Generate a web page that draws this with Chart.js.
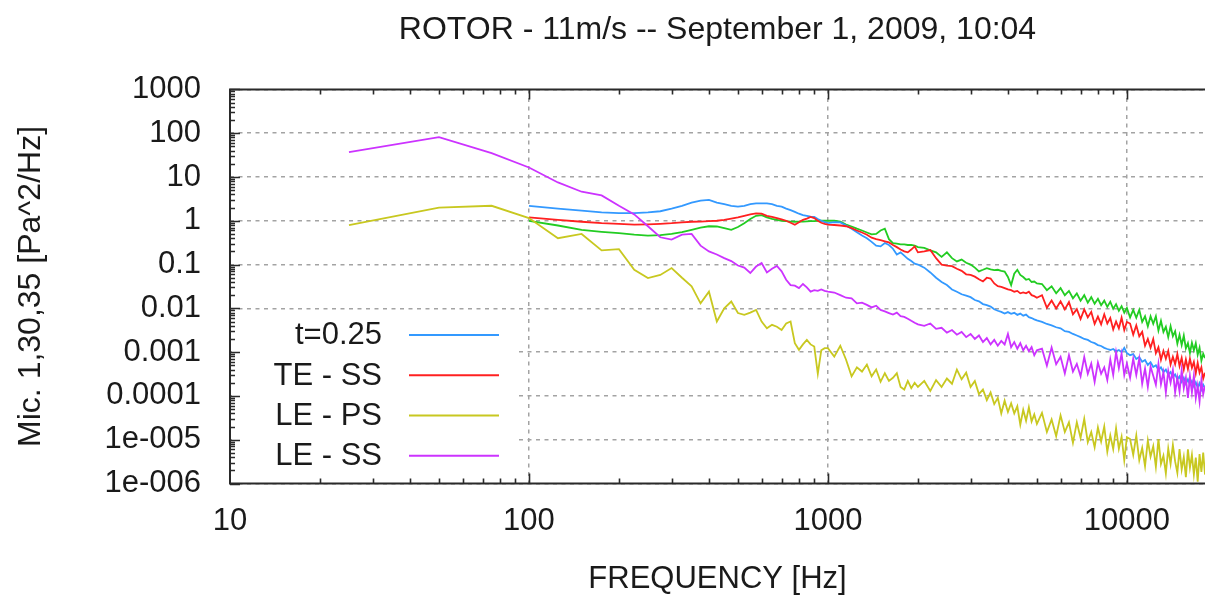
<!DOCTYPE html>
<html>
<head>
<meta charset="utf-8">
<title>ROTOR - 11m/s spectra</title>
<script src="https://cdn.jsdelivr.net/npm/chart.js@4.4.1/dist/chart.umd.min.js"></script>
<style>
  html, body { margin: 0; padding: 0; background: #fff; }
  canvas { display: block; }
</style>
</head>
<body>
<canvas id="psd" width="1205" height="598"></canvas>
<script>
// ---- axis definitions ----
const xTickValues = [10, 100, 1000, 10000];
const xTickLabels = ['10', '100', '1000', '10000'];
const yTickValues = [1e-6, 1e-5, 1e-4, 1e-3, 1e-2, 1e-1, 1, 10, 100, 1000];
const yTickLabels = ['1e-006', '1e-005', '0.0001', '0.001', '0.01', '0.1', '1', '10', '100', '1000'];

// ---- frequency bins [Hz] ----
const freqHz = [
  25, 50, 75, 100, 125, 150, 175, 200, 225, 250, 275, 300, 325, 350, 375, 400, 425, 450, 475, 500,
  525, 550, 575, 600, 625, 650, 675, 700, 725, 750, 775, 800, 825, 850, 875, 900, 925, 950, 975, 1000,
  1050, 1100, 1150, 1200, 1250, 1300, 1350, 1400, 1450, 1500, 1550, 1600, 1650, 1700, 1750, 1800, 1850, 1900, 1950, 2000,
  2100, 2200, 2300, 2400, 2500, 2600, 2700, 2800, 2900, 3000, 3100, 3200, 3300, 3400, 3500, 3600, 3700, 3800, 3900, 4000,
  4100, 4200, 4300, 4400, 4500, 4600, 4700, 4800, 4900, 5000,
  5200, 5400, 5600, 5800, 6000, 6200, 6400, 6600, 6800, 7000, 7200, 7400, 7600, 7800, 8000, 8200, 8400, 8600, 8800, 9000,
  9200, 9400, 9600, 9800, 10000,
  10250, 10500, 10750, 11000, 11250, 11500, 11750, 12000, 12250, 12500, 12750, 13000, 13250, 13500, 13750, 14000,
  14250, 14500, 14750, 15000, 15250, 15500, 15750, 16000, 16250, 16500, 16750, 17000, 17250, 17500, 17750, 18000, 18250
];

// ---- power spectral densities [Pa^2/Hz] ----
const psdT025 = [
  null, null, null, 2.2, 1.9, 1.7, 1.55, 1.5, 1.5, 1.55, 1.65, 1.9, 2.2,
  2.6, 2.9, 3.0, 2.6, 2.4, 2.2, 2.1, 2.2, 2.4, 2.5,
  2.5, 2.5, 2.4, 2.2, 2.1, 1.9, 1.75, 1.6, 1.45, 1.35,
  1.3, 1.25, 1.22, 1.1, 1.0, 0.93, 0.88,
  0.93, 0.92, 0.78, 0.66, 0.55, 0.46, 0.40, 0.33, 0.27, 0.26,
  0.31, 0.28, 0.23, 0.17, 0.19, 0.16, 0.135, 0.12, 0.105, 0.10,
  0.085, 0.066, 0.050, 0.040, 0.034, 0.027, 0.024, 0.021, 0.0195, 0.018,
  0.0155, 0.0145, 0.0125, 0.0118, 0.011, 0.0095, 0.0088, 0.0083, 0.0076, 0.0082,
  0.0075, 0.0079, 0.0071, 0.0076, 0.0068, 0.0072, 0.0063, 0.0060, 0.0056, 0.0053,
  0.0049, 0.0044, 0.0041, 0.0037, 0.0035, 0.0030, 0.0029, 0.0026, 0.0024, 0.0022,
  0.0020, 0.0019, 0.0017, 0.0016, 0.00145, 0.00138, 0.00125, 0.00118, 0.00112, 0.00118,
  0.00105, 0.00112, 0.0010, 0.00125, 0.00095,
  8.5e-4, 9.0e-4, 7.0e-4, 7.7e-4, 6.0e-4, 6.6e-4, 5.1e-4, 5.9e-4, 4.6e-4, 5.0e-4,
  3.9e-4, 4.5e-4, 3.5e-4, 4.0e-4, 3.1e-4, 3.5e-4, 2.7e-4, 3.1e-4, 2.4e-4, 2.8e-4,
  2.1e-4, 2.6e-4, 1.9e-4, 2.4e-4, 1.8e-4, 2.2e-4, 1.65e-4, 2.05e-4, 1.55e-4, 1.95e-4,
  1.4e-4, 1.8e-4, 1.5e-4
];

const psdTESS = [
  null, null, null, 1.2, 1.05, 0.95, 0.88, 0.85, 0.82, 0.83, 0.85, 0.88, 0.92,
  0.95, 0.96, 0.98, 1.0, 1.05, 1.12, 1.2, 1.3, 1.4, 1.48,
  1.45, 1.3, 1.22, 1.15, 1.08, 1.0, 0.9, 0.81, 0.92, 1.05,
  1.12, 1.22, 1.15, 1.0, 0.9, 0.85, 0.82,
  0.80, 0.78, 0.75, 0.68, 0.60, 0.54, 0.48, 0.41, 0.38, 0.36,
  0.34, 0.32, 0.28, 0.25, 0.22, 0.20, 0.19, 0.22, 0.26, 0.19,
  0.20, 0.215, 0.14, 0.10, 0.095, 0.092, 0.08, 0.072, 0.06, 0.058,
  0.053, 0.046, 0.041, 0.05, 0.048, 0.037, 0.032, 0.031, 0.029, 0.027,
  0.026, 0.024, 0.025, 0.022, 0.023, 0.022, 0.024, 0.020, 0.019, 0.0175,
  0.020, 0.0103, 0.0151, 0.0099, 0.0145, 0.0095, 0.014, 0.0073, 0.0096, 0.0057,
  0.0095, 0.0062, 0.0083, 0.0044, 0.0065, 0.0043, 0.0073, 0.0045, 0.0060, 0.0033,
  0.0050, 0.0035, 0.0061, 0.0032, 0.0049,
  4.5e-3, 2.5e-3, 4.1e-3, 2.3e-3, 2.9e-3, 1.4e-3, 2.0e-3, 1.26e-3, 2.0e-3, 9.5e-4,
  1.3e-3, 6.7e-4, 1.07e-3, 7.1e-4, 1.07e-3, 5.2e-4, 7.8e-4, 5.3e-4, 9.0e-4, 4.8e-4,
  7.4e-4, 4.0e-4, 6.8e-4, 4.1e-4, 7.1e-4, 4.4e-4, 6.0e-4, 3.3e-4, 5.7e-4, 3.4e-4,
  4.5e-4, 2.5e-4, 3.4e-4
];

const psdLEPS = [
  0.80, 2.0, 2.2, 1.15, 0.40, 0.50, 0.21, 0.225, 0.076, 0.049,
  0.058, 0.083, 0.05, 0.032, 0.013, 0.024, 0.005, 0.010, 0.0143, 0.0078,
  0.0071, 0.008, 0.0092, 0.005, 0.0035, 0.0042, 0.0038, 0.0032, 0.0045, 0.0050,
  0.0016, 0.00113, 0.0015, 0.0019, 0.0015, 0.00134, 0.00032, 0.0011, 0.00123, 0.00123,
  7.9e-4, 1.4e-3, 6.7e-4, 2.8e-4, 4.5e-4, 3.6e-4, 5.2e-4, 2.8e-4, 4.0e-4, 2.1e-4,
  3.3e-4, 2.2e-4, 2.6e-4, 3.3e-4, 1.6e-4, 1.4e-4, 2.2e-4, 1.5e-4, 2.0e-4, 1.6e-4,
  2.2e-4, 1.3e-4, 2.3e-4, 1.6e-4, 2.5e-4, 1.9e-4, 4.0e-4, 2.4e-4, 3.4e-4, 1.6e-4,
  2.2e-4, 1.1e-4, 1.4e-4, 8.0e-5, 1.2e-4, 6.5e-5, 9.0e-5, 4.0e-5, 7.8e-5, 4.3e-5,
  6.8e-5, 4.0e-5, 5.8e-5, 2.2e-5, 4.8e-5, 2.7e-5, 5.5e-5, 2.6e-5, 3.8e-5, 2.3e-5,
  4.1e-5, 1.5e-5, 2.9e-5, 1.2e-5, 3.6e-5, 1.5e-5, 2.5e-5, 8.5e-6, 2.5e-5, 1.1e-5,
  3.0e-5, 8.8e-6, 1.5e-5, 6.7e-6, 1.9e-5, 9.1e-6, 2.0e-5, 5.3e-6, 1.26e-5, 6.1e-6,
  1.84e-5, 6.2e-6, 1.16e-5, 3.4e-6, 1.14e-5,
  1.04e-5, 4.5e-6, 1.24e-5, 3.4e-6, 6.5e-6, 2.5e-6, 9.6e-6, 4.1e-6, 7.1e-6, 2.4e-6,
  1.03e-5, 2.8e-6, 4.3e-6, 1.7e-6, 6.3e-6, 2.8e-6, 7.6e-6, 3.2e-6, 1.75e-6, 6.1e-6,
  2.1e-6, 4.0e-6, 1.4e-6, 6.0e-6, 2.3e-6, 4.5e-6, 1.6e-6, 3.9e-6, 1.1e-6, 4.7e-6,
  1.85e-6, 5.1e-6, 1.6e-6
];

const psdLESS = [
  37, 81, 35, 16.5, 7.5, 4.6, 3.8, 2.2, 1.4, 0.75,
  0.42, 0.37, 0.48, 0.50, 0.27, 0.20, 0.17, 0.14, 0.12, 0.095,
  0.085, 0.064, 0.09, 0.108, 0.066, 0.08, 0.093, 0.07, 0.045, 0.034,
  0.033, 0.029, 0.036, 0.030, 0.024, 0.026, 0.025, 0.027, 0.025, 0.024,
  0.023, 0.020, 0.0175, 0.017, 0.013, 0.0135, 0.012, 0.0105, 0.0115, 0.0092,
  0.0085, 0.0078, 0.0072, 0.0080, 0.0066, 0.0064, 0.0058, 0.0052, 0.0047, 0.0043,
  0.0040, 0.0045, 0.0034, 0.0036, 0.0028, 0.0032, 0.0025, 0.0029, 0.0022, 0.0026,
  0.0020, 0.0024, 0.0017, 0.0021, 0.0015, 0.0019, 0.0014, 0.0018, 0.0015, 0.0026,
  0.0013, 0.0017, 0.0012, 0.0016, 0.0011, 0.0014, 0.00105, 0.0013, 0.00085, 0.0011,
  1.2e-3, 4.9e-4, 1.28e-3, 5.3e-4, 7.8e-4, 3.25e-4, 8.5e-4, 3.6e-4, 5.4e-4, 2.8e-4,
  7.7e-4, 3.2e-4, 5.5e-4, 2.1e-4, 5.8e-4, 3.2e-4, 4.5e-4, 2.3e-4, 6.8e-4, 3.0e-4,
  1.0e-3, 4.3e-4, 9.3e-4, 3.0e-4, 5.5e-4,
  2.6e-4, 7.1e-4, 3.0e-4, 7.2e-4, 1.9e-4, 4.2e-4, 1.6e-4, 4.7e-4, 2.9e-4, 1.8e-4,
  5.4e-4, 1.85e-4, 3.5e-4, 1.2e-4, 3.7e-4, 2.0e-4, 3.9e-4, 1.2e-4, 2.6e-4, 1.26e-4,
  3.9e-4, 1.5e-4, 2.6e-4, 9.0e-5, 2.8e-4, 1.2e-4, 2.9e-4, 9.0e-5, 1.7e-4, 7.5e-5,
  2.3e-4, 1.1e-4, 1.7e-4
];

// trace plotted without a key entry
const psdExtra = [
  null, null, null, 1.0, 0.78, 0.62, 0.56, 0.52, 0.48, 0.46, 0.47, 0.50, 0.55,
  0.62, 0.70, 0.75, 0.74, 0.68, 0.62, 0.72, 0.88, 1.1, 1.3,
  1.35, 1.2, 1.1, 1.05, 1.0, 0.98, 0.96, 0.95, 0.96, 0.96,
  0.97, 0.98, 0.98, 1.0, 1.0, 1.0, 1.0,
  1.0, 0.95, 0.82, 0.74, 0.66, 0.60, 0.54, 0.49, 0.50, 0.60,
  0.66, 0.38, 0.31, 0.30, 0.29, 0.29, 0.28, 0.28, 0.27, 0.25,
  0.24, 0.21, 0.19, 0.15, 0.19, 0.14, 0.118, 0.13, 0.11, 0.10,
  0.085, 0.07, 0.076, 0.083, 0.078, 0.075, 0.076, 0.072, 0.069, 0.052,
  0.034, 0.062, 0.076, 0.058, 0.052, 0.045, 0.047, 0.040, 0.041, 0.037,
  0.036, 0.026, 0.032, 0.022, 0.029, 0.020, 0.025, 0.017, 0.022, 0.015,
  0.020, 0.0135, 0.018, 0.0128, 0.0165, 0.0118, 0.015, 0.0108, 0.0142, 0.0098,
  0.0125, 0.0088, 0.0112, 0.0080, 0.0102,
  6.2e-3, 9.2e-3, 6.1e-3, 9.3e-3, 4.9e-3, 6.6e-3, 3.9e-3, 6.6e-3, 4.45e-3, 6.6e-3,
  3.1e-3, 5.2e-3, 2.9e-3, 3.8e-3, 2.2e-3, 3.9e-3, 2.3e-3, 3.0e-3, 1.56e-3, 2.5e-3,
  1.46e-3, 2.4e-3, 1.22e-3, 1.6e-3, 9.6e-4, 1.64e-3, 1.1e-3, 1.6e-3, 8.7e-4, 1.26e-3,
  6.4e-4, 9.2e-4, 7.3e-4
];

const seriesLabels = ['t=0.25', 'TE - SS', 'LE - PS', 'LE - SS'];

// ---- styling ----
const FONT = '"Liberation Sans", Arial, Helvetica, sans-serif';
const TEXT = '#1a1a1a';
const FS = 31;
Chart.defaults.font.family = FONT;
Chart.defaults.color = TEXT;

const toPoints = vals => freqHz
  .map((f, i) => (vals[i] == null ? null : { x: f, y: vals[i] }))
  .filter(Boolean);

const traces = [
  { label: seriesLabels[0], values: psdT025, color: '#3399ff', order: 4, key: true },
  { label: seriesLabels[1], values: psdTESS, color: '#ff2020', order: 3, key: true },
  { label: seriesLabels[2], values: psdLEPS, color: '#c8c820', order: 2, key: true },
  { label: seriesLabels[3], values: psdLESS, color: '#cc33ff', order: 1, key: true },
  { label: '', values: psdExtra, color: '#22cc22', order: 5, key: false }
];

// key panel in the lower-left corner of the plot, gnuplot style (text, then sample line)
const keyPanel = {
  id: 'keyPanel',
  afterDatasetsDraw(chart) {
    const { ctx, chartArea: a } = chart;
    ctx.save();
    ctx.fillStyle = '#ffffff';
    ctx.fillRect(a.left + 2, a.top + 226, 286, a.bottom - a.top - 228);
    ctx.font = `${FS}px ${FONT}`;
    ctx.textAlign = 'right';
    ctx.textBaseline = 'middle';
    traces.filter(t => t.key).forEach((t, i) => {
      const yy = a.top + 245.5 + i * 40.3;
      ctx.fillStyle = TEXT;
      ctx.fillText(t.label, a.left + 152, yy + 1);
      ctx.strokeStyle = t.color;
      ctx.lineWidth = 2;
      ctx.beginPath();
      ctx.moveTo(a.left + 179, yy);
      ctx.lineTo(a.left + 269, yy);
      ctx.stroke();
    });
    ctx.restore();
  }
};

// plot border (left, top, bottom) with inward major/minor log ticks
const plotFrame = {
  id: 'plotFrame',
  afterDraw(chart) {
    const { ctx, chartArea: a, scales: { x, y } } = chart;
    ctx.save();
    ctx.strokeStyle = '#2a2a2a';
    ctx.lineWidth = 2;
    ctx.beginPath();
    ctx.moveTo(chart.width, a.top);
    ctx.lineTo(a.left, a.top);
    ctx.lineTo(a.left, a.bottom);
    ctx.lineTo(chart.width, a.bottom);
    ctx.stroke();

    ctx.lineWidth = 1.6;
    ctx.beginPath();
    // frequency axis ticks, bottom and top edges
    for (let d = 10; d <= x.max; d *= 10) {
      for (let m = 1; m <= 9; m++) {
        const v = d * m;
        if (v <= x.min || v > x.max) continue;
        const px = Math.round(x.getPixelForValue(v)) + 0.5;
        const len = m === 1 ? 10 : 5;
        ctx.moveTo(px, a.bottom);
        ctx.lineTo(px, a.bottom - len);
        ctx.moveTo(px, a.top);
        ctx.lineTo(px, a.top + len);
      }
    }
    // PSD axis ticks, left edge
    for (let d = 1e-6; d <= 1000 * 1.0001; d *= 10) {
      for (let m = 1; m <= 9; m++) {
        const v = d * m;
        if (v > y.max * 1.0001) continue;
        const py = Math.round(y.getPixelForValue(v)) + 0.5;
        const len = m === 1 ? 10 : 5;
        ctx.moveTo(a.left, py);
        ctx.lineTo(a.left + len, py);
      }
    }
    ctx.stroke();
    ctx.restore();
  }
};

const gridStyle = { color: '#a3a3a3', lineWidth: 1.5, drawTicks: false };
const gridBorder = { display: false, dash: [4, 4.5] };

new Chart(document.getElementById('psd'), {
  type: 'line',
  data: {
    datasets: traces.map(t => ({
      label: t.label,
      data: toPoints(t.values),
      borderColor: t.color,
      backgroundColor: t.color,
      borderWidth: 1.8,
      pointRadius: 0,
      tension: 0,
      fill: false,
      order: t.order
    }))
  },
  options: {
    responsive: false,
    animation: false,
    layout: { padding: 0 },
    plugins: {
      legend: { display: false },
      tooltip: { enabled: false },
      title: {
        display: true,
        fullSize: false,
        text: 'ROTOR - 11m/s -- September 1, 2009, 10:04',
        color: TEXT,
        font: { size: 32, weight: 'normal', family: FONT },
        padding: { top: 11, bottom: 40 }
      }
    },
    scales: {
      x: {
        type: 'logarithmic',
        position: 'bottom',
        min: 10,
        max: 18250,
        afterBuildTicks: s => { s.ticks = xTickValues.map(v => ({ value: v })); },
        afterFit: s => { s.height = 114.5; },
        grid: gridStyle,
        border: gridBorder,
        ticks: {
          autoSkip: false,
          maxRotation: 0,
          padding: 19,
          color: TEXT,
          font: { size: FS },
          callback: v => xTickLabels[xTickValues.indexOf(v)]
        },
        title: {
          display: true,
          text: 'FREQUENCY [Hz]',
          color: TEXT,
          font: { size: FS },
          padding: { top: 0, bottom: 0 }
        }
      },
      y: {
        type: 'logarithmic',
        position: 'left',
        min: 1e-6,
        max: 1000,
        afterBuildTicks: s => { s.ticks = yTickValues.map(v => ({ value: v })); },
        afterFit: s => { s.width = 230; },
        grid: gridStyle,
        border: gridBorder,
        ticks: {
          autoSkip: false,
          padding: 29,
          color: TEXT,
          font: { size: FS },
          callback: v => {
            const i = yTickValues.findIndex(t => Math.abs(t - v) / t < 1e-6);
            return i >= 0 ? yTickLabels[i] : '';
          }
        },
        title: {
          display: true,
          text: 'Mic. 1,30,35 [Pa^2/Hz]',
          color: TEXT,
          font: { size: 32 },
          padding: { top: 12, bottom: 0 }
        }
      }
    }
  },
  plugins: [keyPanel, plotFrame]
});
</script>
</body>
</html>
